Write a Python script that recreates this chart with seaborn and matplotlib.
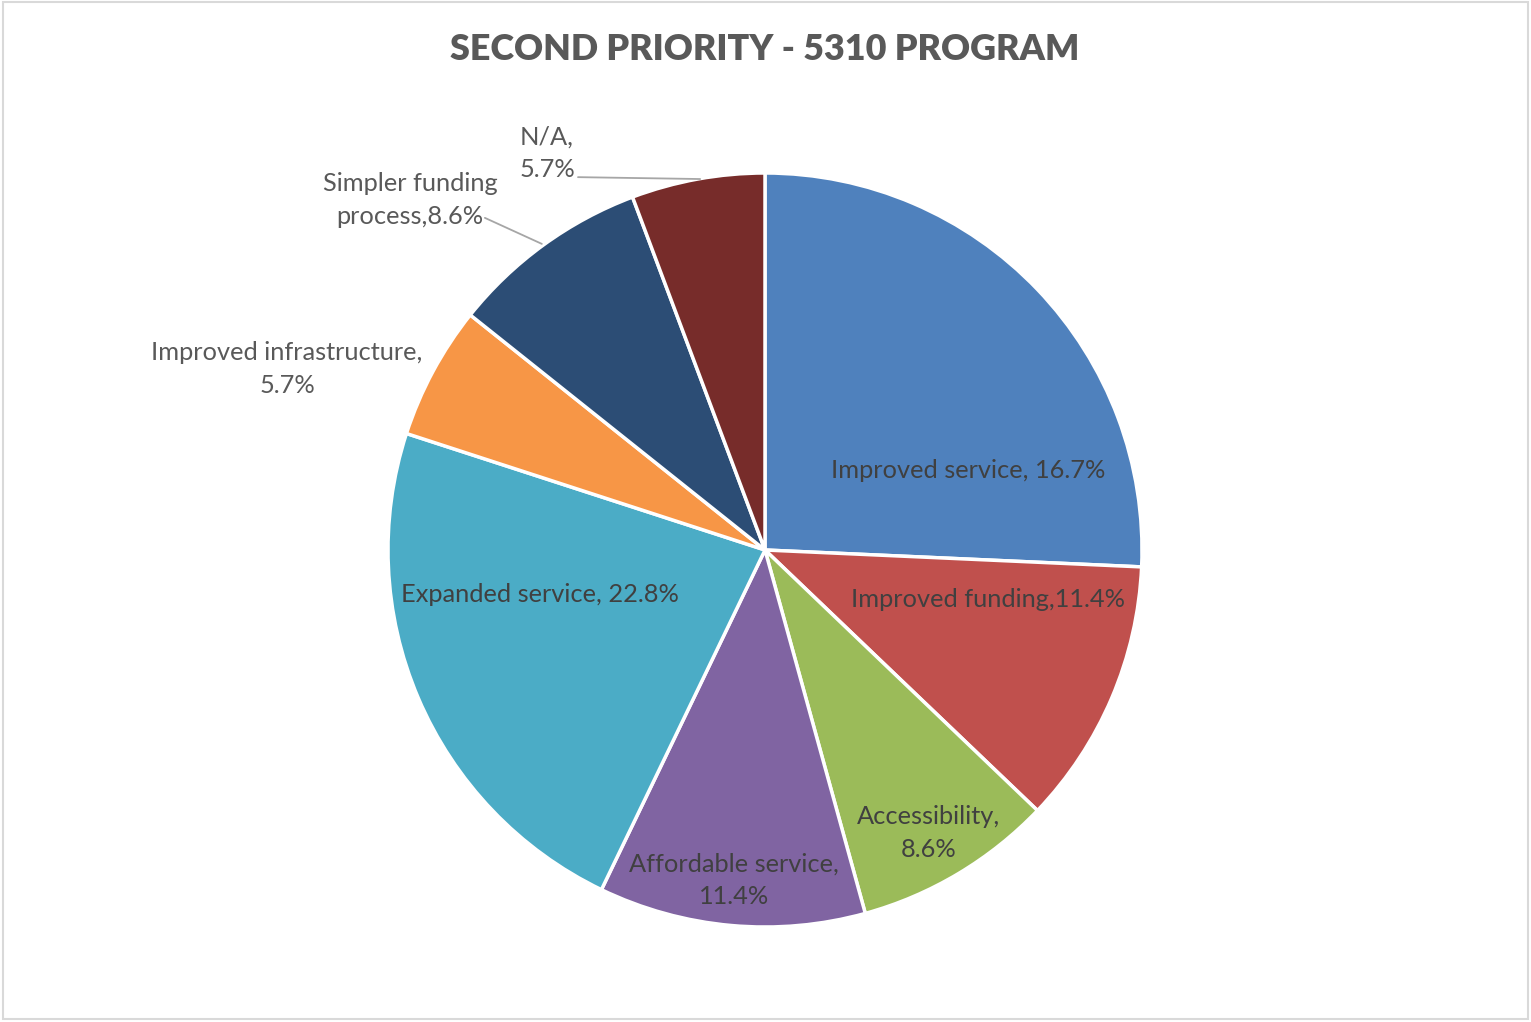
import matplotlib
matplotlib.use("Agg")
import matplotlib.pyplot as plt
import seaborn as sns

# responses out of 35
categories = ["Improved service", "Improved funding", "Accessibility",
              "Affordable service", "Expanded service",
              "Improved infrastructure", "Simpler funding process", "N/A"]
counts = [9, 4, 3, 4, 8, 2, 3, 2]
# label text as printed on the original chart
label_texts = ["Improved service, 16.7%", "Improved funding,11.4%",
               "Accessibility,\n8.6%", "Affordable service,\n11.4%",
               "Expanded service, 22.8%", "Improved infrastructure,\n5.7%",
               "Simpler funding\nprocess,8.6%", "N/A,\n5.7%"]
colors = ["#4F81BD", "#C0504D", "#9BBB59", "#8064A2",
          "#4BACC6", "#F79646", "#2C4D75", "#772C2A"]

sns.set_theme(style="white")
plt.rcParams["font.family"] = ["Lato", "DejaVu Sans"]

W, H = 1531, 1022
fig = plt.figure(figsize=(W / 100, H / 100), dpi=100)
cx, cy, r = 765, 550, 377
ax = fig.add_axes([(cx - r) / W, (H - cy - r) / H, 2 * r / W, 2 * r / H])

wedges, _ = ax.pie(counts, colors=sns.color_palette(colors), startangle=90,
                   counterclock=False, radius=1,
                   wedgeprops=dict(edgecolor="white", linewidth=2.5))
ax.set_xlim(-1, 1)
ax.set_ylim(-1, 1)
ax.set_aspect("equal")
ax.axis("off")

# label placement (radius units from pie centre)
label_pos = [(0.538, 0.210), (0.592, -0.130), (0.435, -0.751), (-0.082, -0.875),
             (-0.597, -0.119), (-1.268, 0.480), (-0.942, 0.928), (-0.578, 1.053)]
inside = [True, True, True, True, True, False, False, False]
for txt, (x, y), ins in zip(label_texts, label_pos, inside):
    ax.text(x, y, txt, ha="center", va="center", fontsize=18.3,
            color="#404040" if ins else "#595959", linespacing=1.5)

# leader lines for the outside labels
ax.plot([-0.743, -0.592], [0.881, 0.812], color="#A6A6A6", lw=1.3, clip_on=False)
ax.plot([-0.496, -0.172], [0.989, 0.984], color="#A6A6A6", lw=1.3, clip_on=False)

fig.text(cx / W, 1 - 50 / H, "SECOND PRIORITY - 5310 PROGRAM", ha="center",
         va="center", fontsize=25.8, fontweight="heavy", color="#595959")

border = plt.Rectangle((0.002, 0.003), 0.996, 0.995, transform=fig.transFigure,
                       fill=False, edgecolor="#D9D9D9", lw=1.5)
fig.patches.append(border)

fig.savefig("out.png", dpi=100, facecolor="white")
